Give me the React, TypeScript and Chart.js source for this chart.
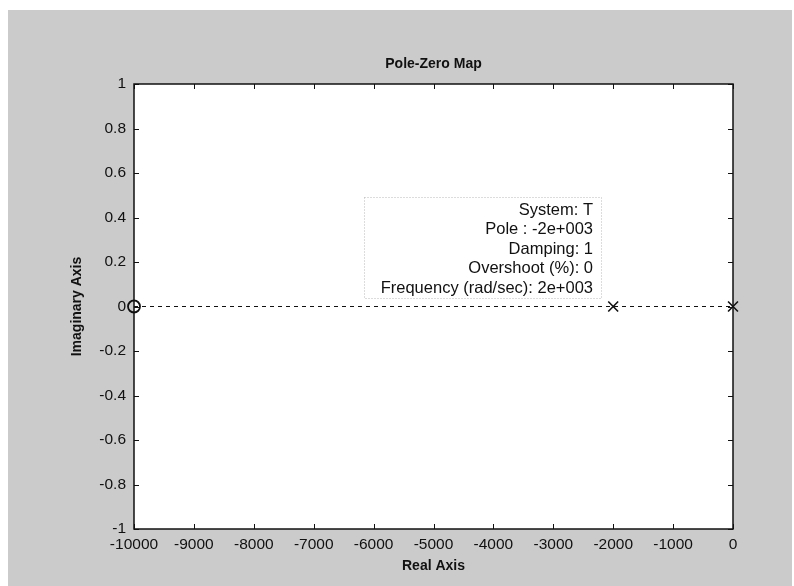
import React, { useEffect, useRef } from "react";
import { Chart, registerables } from "chart.js";

Chart.register(...registerables);

const titleText = "Pole-Zero Map";
const xTitle = "Real Axis";
const yTitle = "Imaginary Axis";
const xTicks = [-10000, -9000, -8000, -7000, -6000, -5000, -4000, -3000, -2000, -1000, 0];
const yTicks = [-1, -0.8, -0.6, -0.4, -0.2, 0, 0.2, 0.4, 0.6, 0.8, 1];
const zerosRe = [-10000];
const zerosIm = [0];
const polesRe = [-2000, 0];
const polesIm = [0, 0];
const axisLineRe = [-10000, 0];
const axisLineIm = [0, 0];
const dataTipLines = [
  "System: T",
  "Pole : -2e+003",
  "Damping: 1",
  "Overshoot (%): 0",
  "Frequency (rad/sec): 2e+003",
];

const FONT = "'Liberation Sans', Arial, sans-serif";
const INK = "#111111";

const framePlugin = {
  id: "frame",
  beforeDraw(chart: any) {
    const { ctx, width, height, chartArea } = chart;
    ctx.save();
    ctx.fillStyle = "#ffffff";
    ctx.fillRect(0, 0, width, height);
    ctx.fillStyle = "#cbcbcb";
    ctx.fillRect(8, 10, width - 10, height - 10);
    ctx.fillStyle = "#ffffff";
    ctx.fillRect(chartArea.left, chartArea.top, chartArea.right - chartArea.left, chartArea.bottom - chartArea.top);
    ctx.restore();
  },
  afterDraw(chart: any) {
    const { ctx, chartArea, scales } = chart;
    const { left, right, top, bottom } = chartArea;
    ctx.save();
    ctx.strokeStyle = INK;
    ctx.lineWidth = 1.5;
    ctx.strokeRect(left, top, right - left, bottom - top);
    ctx.lineWidth = 1;
    const tl = 5;
    ctx.beginPath();
    xTicks.forEach((v) => {
      const px = Math.round(scales.x.getPixelForValue(v)) + 0.5;
      ctx.moveTo(px, bottom);
      ctx.lineTo(px, bottom - tl);
      ctx.moveTo(px, top);
      ctx.lineTo(px, top + tl);
    });
    yTicks.forEach((v) => {
      const py = Math.round(scales.y.getPixelForValue(v)) + 0.5;
      ctx.moveTo(left, py);
      ctx.lineTo(left + tl, py);
      ctx.moveTo(right, py);
      ctx.lineTo(right - tl, py);
    });
    ctx.stroke();

    // data tip
    const bx0 = 364, bx1 = 601, by0 = 197, by1 = 298;
    ctx.strokeStyle = "#b8b8b8";
    ctx.setLineDash([1, 2]);
    ctx.strokeRect(bx0 + 0.5, by0 + 0.5, bx1 - bx0, by1 - by0);
    ctx.setLineDash([]);
    ctx.fillStyle = INK;
    ctx.font = `16.5px ${FONT}`;
    ctx.textAlign = "right";
    ctx.textBaseline = "middle";
    dataTipLines.forEach((t, i) => {
      ctx.fillText(t, 593, 210 + i * 19.5);
    });
    ctx.restore();
  },
};

export default function App() {
  const ref = useRef<HTMLCanvasElement | null>(null);
  useEffect(() => {
    if (!ref.current) return;
    const chart = new Chart(ref.current, {
      type: "scatter",
      data: {
        datasets: [
          {
            type: "line",
            data: axisLineRe.map((x, i) => ({ x, y: axisLineIm[i] })),
            borderColor: INK,
            borderWidth: 1,
            borderDash: [4, 4],
            pointRadius: 0,
            fill: false,
            clip: false as any,
          },
          {
            data: zerosRe.map((x, i) => ({ x, y: zerosIm[i] })),
            pointStyle: "circle",
            pointRadius: 6,
            borderColor: INK,
            backgroundColor: "rgba(0,0,0,0)",
            borderWidth: 1.8,
            clip: false as any,
          },
          {
            data: polesRe.map((x, i) => ({ x, y: polesIm[i] })),
            pointStyle: "crossRot",
            pointRadius: 7,
            borderColor: INK,
            borderWidth: 1.6,
            clip: false as any,
          },
        ],
      },
      options: {
        animation: false,
        responsive: false,
        events: [],
        layout: { padding: { left: 0, right: 61, top: 55.6, bottom: 0 } },
        plugins: {
          legend: { display: false },
          tooltip: { enabled: false },
          title: {
            display: true,
            text: titleText,
            fullSize: false,
            color: INK,
            font: { family: FONT, size: 14, weight: "bold" },
            padding: { top: 0, bottom: 11.6 },
          },
        },
        scales: {
          x: {
            type: "linear",
            min: -10000,
            max: 0,
            afterBuildTicks: (s: any) => {
              s.ticks = xTicks.map((value) => ({ value }));
            },
            afterFit: (s: any) => {
              s.height = 57;
            },
            grid: { display: false, drawTicks: false },
            border: { display: false },
            ticks: {
              callback: (v: any) => String(v),
              color: INK,
              font: { family: FONT, size: 15.5 },
              padding: 6,
              maxRotation: 0,
              autoSkip: false,
            },
            title: {
              display: true,
              text: xTitle,
              color: INK,
              font: { family: FONT, size: 14, weight: "bold" },
              padding: { top: 0, bottom: 11.6 },
            },
          },
          y: {
            type: "linear",
            min: -1,
            max: 1,
            afterBuildTicks: (s: any) => {
              s.ticks = yTicks.map((value) => ({ value }));
            },
            afterFit: (s: any) => {
              s.width = 134;
            },
            grid: { display: false, drawTicks: false },
            border: { display: false },
            ticks: {
              callback: (v: any) => String(Math.round(v * 10) / 10),
              color: INK,
              font: { family: FONT, size: 15.5 },
              padding: 8,
              autoSkip: false,
            },
            title: {
              display: true,
              text: yTitle,
              color: INK,
              font: { family: FONT, size: 14, weight: "bold" },
              padding: { top: 68.6, bottom: 0 },
            },
          },
        },
      },
      plugins: [framePlugin],
    } as any);
    return () => chart.destroy();
  }, []);
  return (
    <div style={{ position: "absolute", left: 0, top: 0, width: 794, height: 586 }}>
      <canvas ref={ref} width={794} height={586} style={{ display: "block", width: 794, height: 586 }} />
    </div>
  );
}
